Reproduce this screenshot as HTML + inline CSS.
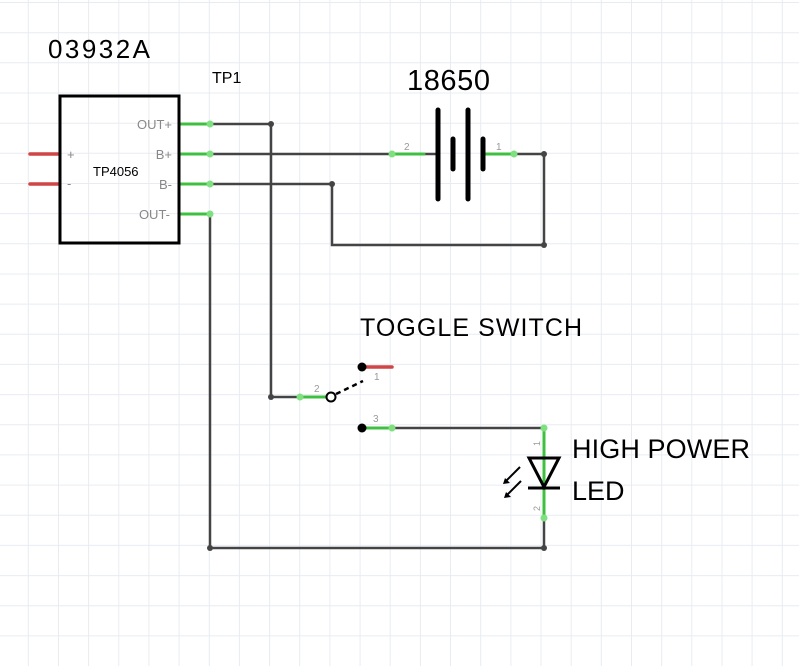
<!DOCTYPE html>
<html><head><style>body{margin:0;background:#fff}svg{display:block}</style></head><body>
<svg width="799" height="666" xmlns="http://www.w3.org/2000/svg" font-family="Liberation Sans, DejaVu Sans, sans-serif">
<g stroke="#e8ecf2" stroke-width="1">
<line x1="28.3" y1="0" x2="28.3" y2="666"/><line x1="58.5" y1="0" x2="58.5" y2="666"/><line x1="88.6" y1="0" x2="88.6" y2="666"/><line x1="118.8" y1="0" x2="118.8" y2="666"/><line x1="148.9" y1="0" x2="148.9" y2="666"/><line x1="179.1" y1="0" x2="179.1" y2="666"/><line x1="209.3" y1="0" x2="209.3" y2="666"/><line x1="239.4" y1="0" x2="239.4" y2="666"/><line x1="269.6" y1="0" x2="269.6" y2="666"/><line x1="299.7" y1="0" x2="299.7" y2="666"/><line x1="329.9" y1="0" x2="329.9" y2="666"/><line x1="360.1" y1="0" x2="360.1" y2="666"/><line x1="390.2" y1="0" x2="390.2" y2="666"/><line x1="420.4" y1="0" x2="420.4" y2="666"/><line x1="450.5" y1="0" x2="450.5" y2="666"/><line x1="480.7" y1="0" x2="480.7" y2="666"/><line x1="510.9" y1="0" x2="510.9" y2="666"/><line x1="541" y1="0" x2="541" y2="666"/><line x1="571.2" y1="0" x2="571.2" y2="666"/><line x1="601.3" y1="0" x2="601.3" y2="666"/><line x1="631.5" y1="0" x2="631.5" y2="666"/><line x1="661.7" y1="0" x2="661.7" y2="666"/><line x1="691.8" y1="0" x2="691.8" y2="666"/><line x1="722" y1="0" x2="722" y2="666"/><line x1="752.1" y1="0" x2="752.1" y2="666"/><line x1="782.3" y1="0" x2="782.3" y2="666"/>
<line x1="0" y1="2.5" x2="799" y2="2.5"/><line x1="0" y1="32.7" x2="799" y2="32.7"/><line x1="0" y1="62.8" x2="799" y2="62.8"/><line x1="0" y1="93" x2="799" y2="93"/><line x1="0" y1="123.2" x2="799" y2="123.2"/><line x1="0" y1="153.3" x2="799" y2="153.3"/><line x1="0" y1="183.5" x2="799" y2="183.5"/><line x1="0" y1="213.6" x2="799" y2="213.6"/><line x1="0" y1="243.8" x2="799" y2="243.8"/><line x1="0" y1="274" x2="799" y2="274"/><line x1="0" y1="304.1" x2="799" y2="304.1"/><line x1="0" y1="334.3" x2="799" y2="334.3"/><line x1="0" y1="364.4" x2="799" y2="364.4"/><line x1="0" y1="394.6" x2="799" y2="394.6"/><line x1="0" y1="424.8" x2="799" y2="424.8"/><line x1="0" y1="454.9" x2="799" y2="454.9"/><line x1="0" y1="485.1" x2="799" y2="485.1"/><line x1="0" y1="515.2" x2="799" y2="515.2"/><line x1="0" y1="545.4" x2="799" y2="545.4"/><line x1="0" y1="575.6" x2="799" y2="575.6"/><line x1="0" y1="605.7" x2="799" y2="605.7"/><line x1="0" y1="635.9" x2="799" y2="635.9"/>
</g>
<g stroke="#444" stroke-width="2.5" fill="none">
<polyline points="210,124 271,124 271,397 300,397"/>
<line x1="210" y1="154" x2="392" y2="154"/>
<polyline points="514,154 544,154 544,245 332,245 332,184 210,184"/>
<polyline points="210,214 210,548 544,548 544,518"/>
<line x1="392" y1="428" x2="544" y2="428"/>
<line x1="424" y1="154" x2="438" y2="154"/>
</g>
<g fill="#444"><circle cx="271" cy="124" r="3"/><circle cx="544" cy="154" r="3"/><circle cx="332" cy="184" r="3"/><circle cx="544" cy="245" r="3"/><circle cx="271" cy="397" r="3"/><circle cx="210" cy="548" r="3"/><circle cx="544" cy="548" r="3"/></g>
<g stroke="#3fbf3f" stroke-width="3" stroke-linecap="round">
<line x1="180" y1="124" x2="210" y2="124"/><line x1="180" y1="154" x2="210" y2="154"/><line x1="180" y1="184" x2="210" y2="184"/><line x1="180" y1="214" x2="210" y2="214"/>
<line x1="392" y1="154" x2="424" y2="154"/><line x1="483" y1="154" x2="514" y2="154"/>
<line x1="300" y1="397" x2="330" y2="397"/><line x1="362" y1="428" x2="392" y2="428"/>
<line x1="544" y1="428" x2="544" y2="518"/>
</g>
<g fill="#7fe07f"><circle cx="210" cy="124" r="3.5"/><circle cx="210" cy="154" r="3.5"/><circle cx="210" cy="184" r="3.5"/><circle cx="210" cy="214" r="3.5"/><circle cx="392" cy="154" r="3.5"/><circle cx="514" cy="154" r="3.5"/><circle cx="300" cy="397" r="3.5"/><circle cx="392" cy="428" r="3.5"/><circle cx="544" cy="428" r="3.5"/><circle cx="544" cy="518" r="3.5"/></g>
<g stroke="#d04545" stroke-width="3.5" stroke-linecap="round">
<line x1="30" y1="154" x2="58" y2="154"/><line x1="30" y1="184" x2="58" y2="184"/><line x1="362" y1="367" x2="392" y2="367"/>
</g>
<rect x="60" y="96" width="119" height="147" fill="none" stroke="#000" stroke-width="3"/>
<g font-size="13" fill="#888">
<text x="172" y="129" text-anchor="end">OUT+</text><text x="172" y="159" text-anchor="end">B+</text><text x="172" y="189" text-anchor="end">B-</text><text x="170" y="219" text-anchor="end">OUT-</text>
<text x="67" y="159">+</text><text x="67" y="188">-</text>
</g>
<text x="93" y="176" font-size="13" fill="#000">TP4056</text>
<text x="48" y="58" font-size="26" fill="#000" textLength="102">03932A</text>
<text x="212" y="83" font-size="16" fill="#000">TP1</text>
<g stroke="#000" stroke-width="5" stroke-linecap="round">
<line x1="438" y1="110" x2="438" y2="199"/><line x1="468" y1="110" x2="468" y2="199"/>
<line x1="453" y1="139" x2="453" y2="169"/><line x1="483" y1="139" x2="483" y2="169"/>
</g>
<text x="407" y="90" font-size="29" fill="#000" textLength="83">18650</text>
<text x="404" y="150" font-size="10" fill="#999">2</text><text x="496" y="150" font-size="10" fill="#999">1</text>
<text x="360" y="336" font-size="25" fill="#000" textLength="222">TOGGLE SWITCH</text>
<circle cx="362" cy="367" r="4.5" fill="#000"/><circle cx="362" cy="428" r="4.5" fill="#000"/>
<circle cx="331" cy="397" r="4.5" fill="#fff" stroke="#000" stroke-width="2"/>
<line x1="336" y1="394" x2="363" y2="381" stroke="#000" stroke-width="2.5" stroke-dasharray="5,4"/>
<text x="374" y="380" font-size="10" fill="#999">1</text><text x="314" y="392" font-size="10" fill="#999">2</text><text x="373" y="422" font-size="10" fill="#999">3</text>
<polygon points="529,458 559,458 544,487" fill="none" stroke="#000" stroke-width="3"/>
<line x1="528" y1="488" x2="560" y2="488" stroke="#000" stroke-width="3"/>
<g stroke="#000" stroke-width="2"><line x1="520" y1="467" x2="506" y2="481"/><line x1="521" y1="481" x2="507" y2="495"/></g>
<polygon points="503,484 510,483 505,478" fill="#000"/><polygon points="504,498 511,497 506,492" fill="#000"/>
<text x="540" y="446" font-size="9" fill="#999" transform="rotate(-90 540 446)">1</text>
<text x="540" y="511" font-size="9" fill="#999" transform="rotate(-90 540 511)">2</text>
<text x="572" y="458" font-size="27" fill="#000" textLength="178">HIGH POWER</text>
<text x="572" y="500" font-size="27" fill="#000">LED</text>
</svg>
</body></html>
